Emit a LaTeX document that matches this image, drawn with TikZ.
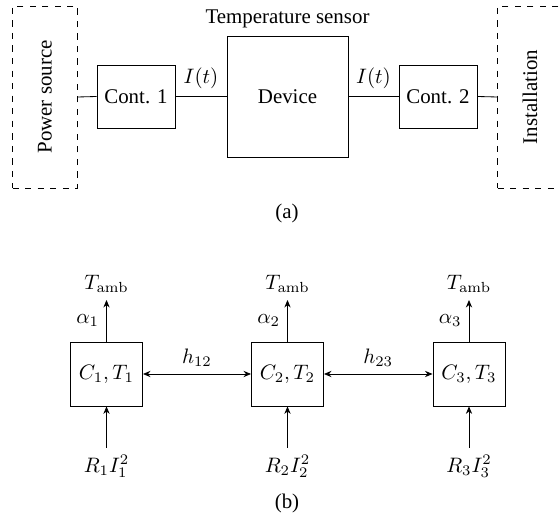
\documentclass[tikz,border=0pt]{standalone}
\usepackage[no-math]{fontspec}
\setmainfont{Liberation Serif}
\usetikzlibrary{arrows.meta}
\begin{document}
\begin{tikzpicture}[x=0.4785pt,y=-0.4785pt,
  outerbox/.style={draw,dashed,minimum width=31pt,minimum height=87.1pt,inner sep=0pt},
  contbox/.style={draw,minimum width=37.3pt,minimum height=30.1pt,inner sep=0pt},
  devbox/.style={draw,minimum width=57.9pt,minimum height=57.9pt,inner sep=0pt},
  thbox/.style={draw,minimum width=34.5pt,minimum height=30.6pt,inner sep=0pt},
  arr/.style={-{Stealth[length=3.6pt,width=3pt]}},
  darr/.style={{Stealth[length=3.6pt,width=3pt]}-{Stealth[length=3.6pt,width=3pt]}}]
\useasboundingbox (0,0) rectangle (560,525);
% (a)
\node[outerbox] (ps) at (45,97) {\rotatebox{90}{Power source}};
\node[outerbox] (inst) at (530,97) {\rotatebox{90}{Installation}};
\node[contbox] (c1) at (136,96.5) {Cont. 1};
\node[devbox,label={above:Temperature sensor}] (dev) at (287.5,96.5) {Device};
\node[contbox] (c2) at (438,96.5) {Cont. 2};
\draw (ps.east) -- (c1.west);
\draw (c1) -- node[above] {$I(t)$} (dev);
\draw (dev) -- node[above] {$I(t)$} (c2);
\draw (c2.east) -- (inst.west);
\node (capa) at (287,213) {(a)};
% (b)
\foreach \i/\x in {1/106.5,2/287.5,3/469}{
  \node[thbox] (b\i) at (\x,374) {$C_\i, T_\i$};
  \node[anchor=south] (t\i) at (\x,300) {$T_{\mathrm{amb}}$};
  \node[anchor=north] (r\i) at (\x,448) {$R_\i I_\i^2$};
  \draw[arr] (b\i) -- node[left] {$\alpha_\i$} (t\i);
  \draw[arr] (r\i) -- (b\i);
}
\draw[darr] (b1) -- node[above] {$h_{12}$} (b2);
\draw[darr] (b2) -- node[above] {$h_{23}$} (b3);
\node (capb) at (287,503) {(b)};
\end{tikzpicture}
\end{document}
